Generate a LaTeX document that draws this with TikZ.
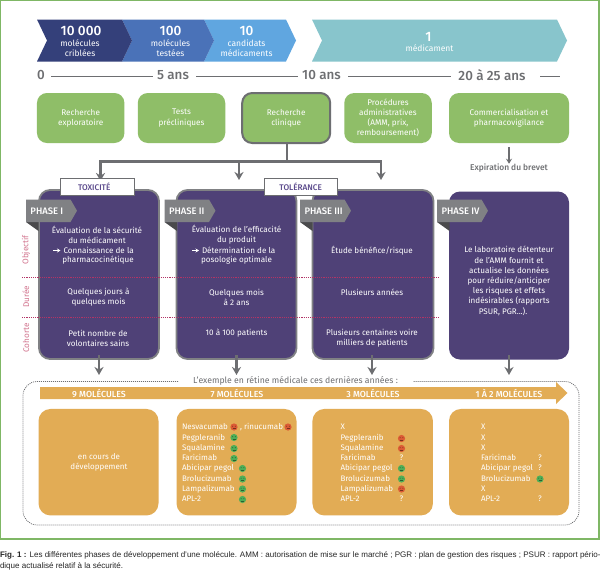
\documentclass[tikz,border=0pt]{standalone}
\usepackage{fontspec}
\setmainfont{Fira Sans}
\newfontfamily\medf{Fira Sans Medium}
\newfontfamily\capfont{Liberation Sans}
\usetikzlibrary{arrows.meta,shapes.geometric}
\definecolor{frameg}{HTML}{7FB765}
\definecolor{chA}{HTML}{34407A}
\definecolor{chB}{HTML}{4A72B8}
\definecolor{chC}{HTML}{60A6E0}
\definecolor{chD}{HTML}{88C5CC}
\definecolor{boxg}{HTML}{8FBE68}
\definecolor{grayl}{HTML}{6D6E71}
\definecolor{violet}{HTML}{4F4177}
\definecolor{tagg}{HTML}{808184}
\definecolor{tagd}{HTML}{4A4A4C}
\definecolor{dotr}{HTML}{B23465}
\definecolor{pinkl}{HTML}{D2748E}
\definecolor{orng}{HTML}{E2AC55}
\definecolor{smr}{HTML}{DB5B35}
\definecolor{smg}{HTML}{4FAE57}
\definecolor{titv}{HTML}{5B4A8C}
\tikzset{
  x=1pt,y=-1pt,
  every node/.style={inner sep=0pt,outer sep=0pt,align=center},
  chev/.style={text=white,font=\fontsize{8.5}{10.2}\selectfont},
  big/.style={text=white,font=\medf\fontsize{13.6}{14}\selectfont},
  tl/.style={text=grayl,font=\medf\fontsize{13.4}{14}\selectfont},
  tline/.style={grayl,line width=0.9pt},
  gbox/.style={draw=none,fill=boxg,rounded corners=10pt,text=white,font=\fontsize{8.2}{10.2}\selectfont},
  gboxhl/.style={gbox,draw=grayl,line width=2pt},
  conn/.style={grayl,line width=2.2pt,line join=miter},
  arr/.style={conn,-{Stealth[length=8pt,width=9pt]}},
  sarr/.style={grayl,line width=1.2pt,-{Stealth[length=5pt,width=6pt]}},
  pnl/.style={draw=tagg,line width=1.8pt,fill=violet,rounded corners=11pt},
  pnlb/.style={fill=violet,rounded corners=11pt},
  ptxt/.style={text=white,font=\fontsize{8.1}{10.2}\selectfont},
  tagbox/.style={draw=grayl,line width=0.8pt,fill=white,text=titv,font=\medf\fontsize{8.2}{9}\selectfont},
  ptag/.style={text=white,font=\medf\fontsize{9.4}{9}\selectfont,anchor=west},
  side/.style={text=pinkl,rotate=90,font=\fontsize{8.2}{9}\selectfont},
  dotl/.style={dotr,line width=0.8pt,dash pattern=on 1.1pt off 1.1pt},
  obox/.style={fill=orng,rounded corners=12pt},
  otxt/.style={text=white,font=\fontsize{8}{10.2}\selectfont},
  ohead/.style={text=white,font=\medf\fontsize{8.8}{9}\selectfont},
  mol/.style={text=white,anchor=west,text height=5.6pt,text depth=1.6pt,font=\fontsize{8}{9}\selectfont},
  qm/.style={text=white,text height=5.6pt,text depth=1.6pt,font=\fontsize{8}{9}\selectfont},
}
\newcommand{\smiley}[4]{% name, x, y, colour
  \node[circle,fill=#4,minimum size=7.2pt] (#1) at (#2,#3) {};
  \fill[black!45!#4] (#2-1.3,#3-0.8) circle (0.5pt) (#2+1.3,#3-0.8) circle (0.5pt);
  \draw[black!45!#4,line width=0.4pt] (#2-1.5,#3+1.3) -- (#2+1.5,#3+1.3);
}
\begin{document}
\begin{tikzpicture}
\useasboundingbox (0,0) rectangle (600,570);
\fill[white] (0,0) rectangle (600,570);
\draw[frameg,line width=1.4pt] (0.7,0.7) rectangle (598.8,539);

% chevrons
\fill[chD] (312,19.5) -- (557,19.5) -- (567,40.5) -- (557,61.5) -- (312,61.5) -- (322,40.5) -- cycle;
\fill[chC] (204,19.5) -- (286,19.5) -- (296,40.5) -- (286,61.5) -- (204,61.5) -- (214,40.5) -- cycle;
\fill[chB] (122,19.5) -- (204,19.5) -- (214,40.5) -- (204,61.5) -- (122,61.5) -- (132,40.5) -- cycle;
\fill[chA] (37,19.5) -- (122,19.5) -- (132,40.5) -- (122,61.5) -- (37,61.5) -- (47,40.5) -- cycle;
\node[big] (n1) at (81,31) {10 000};
\node[chev] (t1) at (80,48.5) {molécules\\criblées};
\node[big] (n2) at (170.5,31) {100};
\node[chev] (t2) at (170.5,48.5) {molécules\\testées};
\node[big] (n3) at (246.5,31) {10};
\node[chev] (t3) at (246.5,48.5) {candidats\\médicaments};
\node[big] (n4) at (428.5,37) {1};
\node[chev] (t4) at (429.5,48.5) {médicament};

% time line
\node[tl] (y0) at (41,75.5) {0};
\node[tl] (y5) at (173,75.5) {5 ans};
\node[tl] (y10) at (321.5,75.5) {10 ans};
\node[tl] (y20) at (492,75.5) {20 à 25 ans};
\coordinate (yend) at (560,76);
\coordinate (yendb) at (540,76);
\coordinate (l1a) at (51,76); \coordinate (l1b) at (153,76);
\coordinate (l2a) at (196,76); \coordinate (l2b) at (298,76);
\coordinate (l3a) at (348,76); \coordinate (l3b) at (451,76);
\draw[tline] (l1a) -- (l1b);
\draw[tline] (l2a) -- (l2b);
\draw[tline] (l3a) -- (l3b);
\draw[tline] (yendb) -- (yend);

% green boxes
\node[gbox,minimum width=87.5pt,minimum height=50pt] (b1) at (80.7,118) {Recherche\\exploratoire};
\node[gbox,minimum width=87.5pt,minimum height=50pt] (b2) at (181.5,118) {Tests\\précliniques};
\node[gboxhl,minimum width=88pt,minimum height=50pt] (b3) at (286.2,118) {Recherche\\clinique};
\node[gbox,minimum width=87.5pt,minimum height=50pt] (b4) at (388,118) {Procédures\\administratives\\(AMM, prix,\\remboursement)};
\node[gbox,minimum width=120pt,minimum height=50pt] (b5) at (509,118) {Commercialisation et\\pharmacovigilance};
\node[text=grayl,font=\medf\fontsize{8.4}{9}\selectfont] (exp) at (509,168) {Expiration du brevet};
\coordinate (expa) at (509,147);
\draw[sarr] (expa) -- (exp.north -| expa);

% panels
\node[pnl,minimum width=120pt,minimum height=169pt] (p1) at (99,274.5) {};
\node[pnl,minimum width=120pt,minimum height=169pt] (p2) at (236.5,274.5) {};
\node[pnl,minimum width=121pt,minimum height=169pt] (p3) at (373,274.5) {};
\node[pnlb,minimum width=120pt,minimum height=168pt] (p4) at (509,275.5) {};

% connector from clinical research
\coordinate (jn) at (287,161.5);
\coordinate (a1) at (100.5,161.5);
\coordinate (a2) at (239,161.5);
\coordinate (a3) at (381,161.5);
\coordinate (a1e) at (100.5,181);
\coordinate (a2e) at (239,180);
\coordinate (a3e) at (381,180);
\draw[conn] (b3.south -| jn) -- (jn);
\draw[arr] (jn) -- (a1) -- (a1e);
\draw[arr] (jn) -- (a3) -- (a3e);
\draw[arr] (a2) -- (a2e);

\node[tagbox,minimum width=73.5pt,minimum height=17pt] (tox) at (97.2,186.5) {\hspace*{-6pt}TOXICITÉ};
\node[tagbox,minimum width=73.5pt,minimum height=17pt] (tol) at (300.7,186.5) {TOLÉRANCE};

% phase tags
\foreach \nm/\xx/\lab in {ta/26/PHASE I,tb/164.5/PHASE II,tc/300/PHASE III,td/437/PHASE IV}{
  \fill[tagd] (\xx,222) -- (\xx+12.5,222) -- (\xx+12.5,231) -- cycle;
  \fill[tagg] (\xx,199.5) -- (\xx+44.5,199.5) -- (\xx+51,210.7) -- (\xx+44.5,222) -- (\xx,222) -- cycle;
  \node[ptag] (\nm) at (\xx+4.5,211) {\lab};
}

% dotted separators
\coordinate (d1l) at (22,277.5); \coordinate (d1r) at (439,277.5);
\coordinate (d2l) at (22,317); \coordinate (d2r) at (439,317);
\draw[dotl] (d1l) -- (d1r);
\draw[dotl] (d2l) -- (d2r);

% side labels
\node[side] (s1) at (26,250) {Objectif};
\node[side] (s2) at (26,297) {Durée};
\node[side] (s3) at (26,338) {Cohorte};

% panel 1 text
\node[ptxt] (p1a) at (97,234.5) {Évaluation de la sécurité\\du médicament};
\node[ptxt,anchor=west] (p1b) at (63.5,250) {Connaissance de la};
\node[ptxt] (p1c) at (98,260.3) {pharmacocinétique};
\node[ptxt] (p1d) at (98.5,297) {Quelques jours à\\quelques mois};
\node[ptxt] (p1e) at (98,338) {Petit nombre de\\volontaires sains};
\draw[white,line width=0.8pt,-{Stealth[length=3.5pt,width=4pt]}] (53,250.5) -- (60.5,250.5);
% panel 2 text
\node[ptxt] (p2a) at (236.5,234.5) {Évaluation de l’efficacité\\du produit};
\node[ptxt,anchor=west] (p2b) at (202,250) {Détermination de la};
\node[ptxt] (p2c) at (236.5,260.3) {posologie optimale};
\node[ptxt] (p2d) at (236.5,297) {Quelques mois\\à 2 ans};
\node[ptxt] (p2e) at (236.5,333) {10 à 100 patients};
\draw[white,line width=0.8pt,-{Stealth[length=3.5pt,width=4pt]}] (192,250.5) -- (199,250.5);
% panel 3 text
\node[ptxt] (p3a) at (372,250.5) {Étude bénéfice/risque};
\node[ptxt] (p3b) at (372,292) {Plusieurs années};
\node[ptxt] (p3c) at (372,338) {Plusieurs centaines voire\\milliers de patients};
% panel 4 text
\node[ptxt] (p4a) at (509,281) {Le laboratoire détenteur\\de l’AMM fournit et\\actualise les données\\pour réduire/anticiper\\les risques et effets\\indésirables (rapports\\\hspace*{-12pt}PSUR, PGR...).};

% example frame
\draw[grayl,line width=0.75pt,dash pattern=on 1pt off 1pt,rounded corners=14pt] (178,381.5) -- (23,381.5) -- (23,525) -- (579,525) -- (579,381.5) -- (413,381.5);
\node[text=grayl,font=\fontsize{8.7}{9}\selectfont] (exa) at (295.5,381) {L’exemple en rétine médicale ces dernières années :};

% long arrow
\fill[orng] (40,387) -- (556,387) -- (556,382) -- (567.5,393) -- (556,404) -- (556,399) -- (40,399) -- cycle;
\node[ohead] (h1) at (99,393.5) {9 MOLÉCULES};
\node[ohead] (h2) at (237,393.5) {7 MOLÉCULES};
\node[ohead] (h3) at (373,393.5) {3 MOLÉCULES};
\node[ohead] (h4) at (509,393.5) {1 À 2 MOLÉCULES};

% arrows panels -> orange
\coordinate (e1) at (99,375); \coordinate (e2) at (236.5,375); \coordinate (e3) at (372,375); \coordinate (e4) at (509,375);
\coordinate (f1) at (99,355); \coordinate (f2) at (236.5,355); \coordinate (f3) at (372,355); \coordinate (f4) at (509,355);
\draw[arr] (f1) -- (e1);
\draw[arr] (f2) -- (e2);
\draw[arr] (f3) -- (e3);
\draw[arr] (f4) -- (e4);

% orange boxes
\node[obox,minimum width=120pt,minimum height=106.5pt] (o1) at (98.5,462.2) {};
\node[obox,minimum width=120pt,minimum height=106.5pt] (o2) at (236.5,462.2) {};
\node[obox,minimum width=120.5pt,minimum height=106.5pt] (o3) at (372.7,462.2) {};
\node[obox,minimum width=120pt,minimum height=106.5pt] (o4) at (509,462.2) {};
\node[otxt] (o1t) at (99,462) {en cours de\\développement};

% list box 2
\node[mol] (m21) at (182,427.8) {Nesvacumab};
\node[mol] (m21b) at (240,427.8) {, rinucumab};
\node[mol] (m22) at (182,438) {Pegpleranib};
\node[mol] (m23) at (182,448.5) {Squalamine};
\node[mol] (m24) at (182,458.5) {Faricimab};
\node[mol] (m25) at (182,468.7) {Abicipar pegol};
\node[mol] (m26) at (182,479) {Brolucizumab};
\node[mol] (m27) at (182,489.2) {Lampalizumab};
\node[mol] (m28) at (182,499.5) {APL-2};
\smiley{s21}{234}{427}{smr}
\smiley{s21b}{288}{427}{smr}
\smiley{s22}{234}{437.5}{smg}
\smiley{s23}{234}{448.5}{smg}
\smiley{s24}{234}{458.5}{smg}
\smiley{s25}{242.5}{468.5}{smg}
\smiley{s26}{242.5}{479}{smg}
\smiley{s27}{242.5}{489}{smg}
\smiley{s28}{242.5}{499.5}{smg}

% list box 3
\node[mol] (m31) at (340.5,427.8) {X};
\node[mol] (m32) at (340.5,438) {Pegpleranib};
\node[mol] (m33) at (340.5,448.5) {Squalamine};
\node[mol] (m34) at (340.5,458.5) {Faricimab};
\node[mol] (m35) at (340.5,468.7) {Abicipar pegol};
\node[mol] (m36) at (340.5,479) {Brolucizumab};
\node[mol] (m37) at (340.5,489.2) {Lampalizumab};
\node[mol] (m38) at (340.5,499.5) {APL-2};
\smiley{s32}{401.5}{438.5}{smr}
\smiley{s33}{401.5}{448.5}{smr}
\node[qm] (q34) at (401.5,458.5) {?};
\smiley{s35}{401.5}{468.5}{smg}
\smiley{s36}{401.5}{479}{smg}
\smiley{s37}{401.5}{489}{smr}
\node[qm] (q38) at (401.5,499.5) {?};

% list box 4
\node[mol] (m41) at (481,427.8) {X};
\node[mol] (m42) at (481,438) {X};
\node[mol] (m43) at (481,448.5) {X};
\node[mol] (m44) at (481,458.5) {Faricimab};
\node[mol] (m45) at (481,468.7) {Abicipar pegol};
\node[mol] (m46) at (481,479) {Brolucizumab};
\node[mol] (m47) at (481,489.2) {X};
\node[mol] (m48) at (481,499.5) {APL-2};
\node[qm] (q44) at (540,458.5) {?};
\node[qm] (q45) at (540,468.5) {?};
\smiley{s46}{540}{479}{smg}
\node[qm] (q48) at (540,499.5) {?};

% caption
\node[anchor=west,align=left,font=\capfont\fontsize{8.03}{10.4}\selectfont,text=black!85] (cap) at (0,560.8) {\textbf{Fig. 1 :} Les différentes phases de développement d’une molécule. AMM : autorisation de mise sur le marché ; PGR : plan de gestion des risques ; PSUR : rapport pério-\\dique actualisé relatif à la sécurité.};
\end{tikzpicture}
\end{document}
